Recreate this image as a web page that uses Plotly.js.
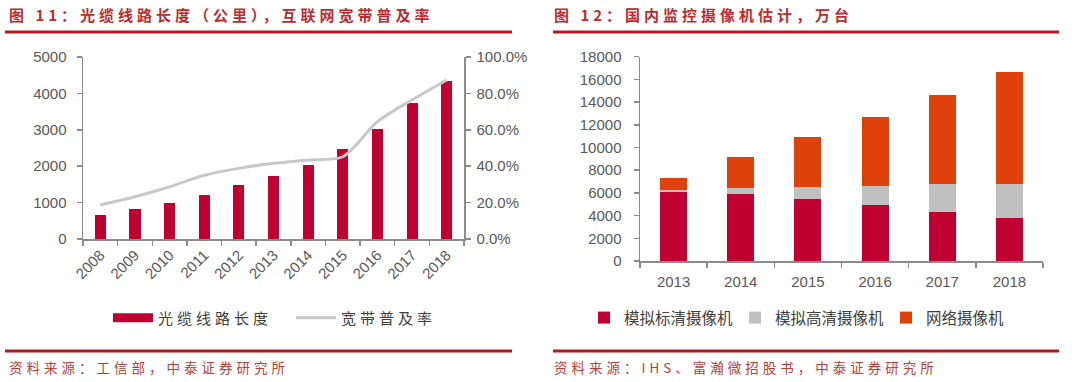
<!DOCTYPE html>
<html><head><meta charset="utf-8">
<script src="https://cdn.plot.ly/plotly-3.0.1.min.js"></script>
<style>
html,body{margin:0;padding:0;background:#fff;}
#chart{width:1080px;height:382px;}
.annotation-text{letter-spacing:4px;}
g.legend .legendtext{letter-spacing:4px !important;}
g.legend2 .legendtext{letter-spacing:3px !important;}
</style></head>
<body><div id="chart"></div>
<script>
// ---- data: left chart ----
const years1 = ['2008','2009','2010','2011','2012','2013','2014','2015','2016','2017','2018'];
const fiberLength = [660, 815, 990, 1200, 1475, 1730, 2035, 2475, 3030, 3735, 4350];
const broadbandRate = [0.187, 0.232, 0.287, 0.350, 0.388, 0.416, 0.434, 0.452, 0.645, 0.764, 0.874];
const leftNames = ['光缆线路长度', '宽带普及率'];
// ---- data: right chart ----
const years2 = ['2013','2014','2015','2016','2017','2018'];
const analogSD = [6100, 5900, 5450, 4950, 4350, 3770];
const analogHD = [150, 550, 1100, 1700, 2400, 3000];
const networkCam = [1100, 2680, 4350, 6080, 7870, 9870];
const rightNames = ['模拟标清摄像机', '模拟高清摄像机', '网络摄像机'];
// ---- texts ----
const titles = ['图 11：光缆线路长度（公里），互联网宽带普及率', '图 12：国内监控摄像机估计，万台'];
const sources = ['资料来源：工信部，中泰证券研究所', '资料来源：IHS、富瀚微招股书，中泰证券研究所'];

const W = 1080, H = 382;
const px = v => v / W, py = v => 1 - v / H;
const RED = '#C00030', ORANGE = '#E0400A', GRAY = '#C0C0C0', LINEGRAY = '#C8C8C8';
const TITLE_RED = '#BE2A2E', RULE_RED = '#B01A22', SRC_RED = '#B8403A';
const axisColor = '#8C8C8C', tickColor = '#595959';
const numFont = {family: 'Liberation Sans, Arial, sans-serif', size: 15, color: tickColor};
const cjk = 'Noto Sans CJK SC, sans-serif';

const traces = [
  {type:'bar', x: years1, y: fiberLength, xaxis:'x', yaxis:'y', width:0.32,
   marker:{color:RED}, showlegend:false, name: leftNames[0], hoverinfo:'x+y'},
  {type:'scatter', mode:'lines', x:[null], y:[null], xaxis:'x', yaxis:'y',
   line:{color:RED, width:9}, name:leftNames[0], legend:'legend'},
  {type:'scatter', mode:'lines', x: years1, y: broadbandRate, xaxis:'x', yaxis:'y2',
   line:{color:LINEGRAY, width:3, shape:'spline', smoothing:0.8}, name:leftNames[1], legend:'legend'},
  {type:'bar', x: years2, y: analogSD, xaxis:'x3', yaxis:'y3', width:0.4,
   marker:{color:RED}, name:rightNames[0], legend:'legend2'},
  {type:'bar', x: years2, y: analogHD, xaxis:'x3', yaxis:'y3', width:0.4,
   marker:{color:GRAY}, name:rightNames[1], legend:'legend2'},
  {type:'bar', x: years2, y: networkCam, xaxis:'x3', yaxis:'y3', width:0.4,
   marker:{color:ORANGE}, name:rightNames[2], legend:'legend2'}
];

const axBase = {showline:true, linecolor:axisColor, linewidth:1.5, ticks:'outside',
  ticklen:5, tickcolor:axisColor, tickwidth:1.5, showgrid:false, zeroline:false,
  tickfont:numFont, fixedrange:true};

const layout = {
  width:W, height:H, margin:{l:0,r:0,t:0,b:0},
  paper_bgcolor:'#fff', plot_bgcolor:'rgba(0,0,0,0)',
  barmode:'stack', showlegend:true,
  xaxis: Object.assign({}, axBase, {domain:[px(83), px(464)], anchor:'y', type:'category',
    tickson:'boundaries', tickangle:-45}),
  yaxis: Object.assign({}, axBase, {domain:[py(239), py(57)], anchor:'x', range:[0,5000], dtick:1000,
    tickformat:'d', ticklabelstandoff:7}),
  yaxis2: Object.assign({}, axBase, {overlaying:'y', side:'right', anchor:'x', range:[0,1], dtick:0.2,
    tickformat:'.1%', ticklabelstandoff:3}),
  xaxis3: Object.assign({}, axBase, {domain:[px(640), px(1043)], anchor:'y3', type:'category',
    tickson:'boundaries', tickangle:0, ticklabelstandoff:6}),
  yaxis3: Object.assign({}, axBase, {domain:[py(261), py(56.7)], anchor:'x3', range:[0,18000], dtick:2000,
    tickformat:'d', ticklabelstandoff:9}),
  legend: {orientation:'h', x:px(108), xanchor:'left', y:py(318), yanchor:'middle',
    itemwidth:40, entrywidth:128, entrywidthmode:'pixels', traceorder:'normal', bgcolor:'rgba(0,0,0,0)',
    font:{family:cjk, size:15, color:'#404040'}, itemclick:false, itemdoubleclick:false},
  legend2: {orientation:'h', x:px(584), xanchor:'left', y:py(318), yanchor:'middle',
    itemwidth:30, entrywidth:106, entrywidthmode:'pixels', traceorder:'normal', bgcolor:'rgba(0,0,0,0)',
    font:{family:cjk, size:15.5, color:'#404040'}, itemclick:false, itemdoubleclick:false},
  shapes: [
    {type:'line', xref:'paper', yref:'paper', x0:px(5), x1:px(512), y0:py(32), y1:py(32), line:{color:RULE_RED, width:3}},
    {type:'line', xref:'paper', yref:'paper', x0:px(553), x1:px(1059), y0:py(32), y1:py(32), line:{color:RULE_RED, width:3}},
    {type:'line', xref:'paper', yref:'paper', x0:px(5), x1:px(512), y0:py(351), y1:py(351), line:{color:RULE_RED, width:3}},
    {type:'line', xref:'paper', yref:'paper', x0:px(553), x1:px(1059), y0:py(351), y1:py(351), line:{color:RULE_RED, width:3}}
  ],
  annotations: [
    {text:titles[0], xref:'paper', yref:'paper', x:px(7), y:py(15), xanchor:'left', yanchor:'middle',
     showarrow:false, font:{family:cjk, size:15, color:TITLE_RED, weight:'bold'}},
    {text:titles[1], xref:'paper', yref:'paper', x:px(552), y:py(15), xanchor:'left', yanchor:'middle',
     showarrow:false, font:{family:cjk, size:15, color:TITLE_RED, weight:'bold'}},
    {text:sources[0], xref:'paper', yref:'paper', x:px(7), y:py(367), xanchor:'left', yanchor:'middle',
     showarrow:false, font:{family:cjk, size:13.5, color:SRC_RED}},
    {text:sources[1], xref:'paper', yref:'paper', x:px(552), y:py(367), xanchor:'left', yanchor:'middle',
     showarrow:false, font:{family:cjk, size:13.5, color:SRC_RED}}
  ]
};

Plotly.newPlot('chart', traces, layout, {displayModeBar:false, staticPlot:true});
</script></body></html>
